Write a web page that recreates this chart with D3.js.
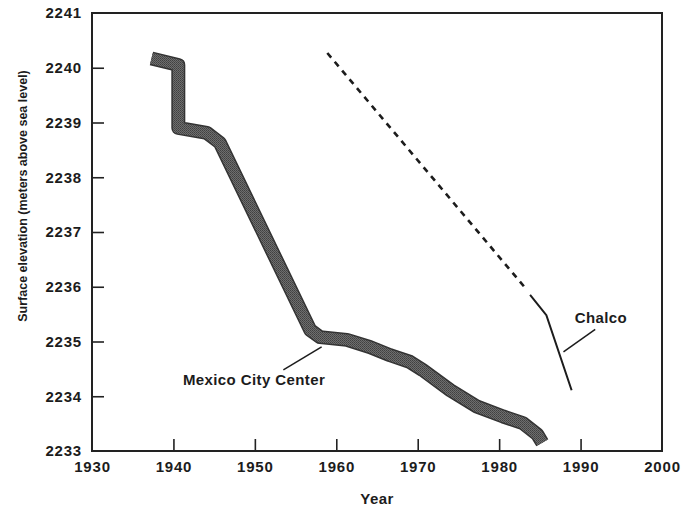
<!DOCTYPE html>
<html>
<head>
<meta charset="utf-8">
<script src="https://cdn.jsdelivr.net/npm/d3@7"></script>
<style>
  body { margin: 0; background: #fff; }
  text { font-family: 'Liberation Sans', Arial, Helvetica, sans-serif; font-weight: bold; fill: #1c1c1c; }
</style>
</head>
<body>
<svg id="chart"></svg>
<script>
// Mexico City Center (thick band)
let cityYears = [1937.3, 1940.6, 1940.6, 1944.1, 1945.7, 1956.8, 1958.0, 1961.3, 1964.1, 1966.6, 1969.0, 1970.6, 1974.0, 1977.3, 1980.5, 1982.9, 1984.7, 1985.3]
let cityElev  = [2240.17, 2240.05, 2238.90, 2238.81, 2238.63, 2235.21, 2235.08, 2235.03, 2234.90, 2234.75, 2234.63, 2234.48, 2234.11, 2233.81, 2233.63, 2233.51, 2233.30, 2233.15]

// Chalco: dashed (projected) and solid (measured)
let chalcoDashYears = [1958.9, 1983.2]
let chalcoDashElev  = [2240.27, 2235.98]
let chalcoYears = [1983.8, 1985.8, 1988.9]
let chalcoElev  = [2235.85, 2235.48, 2234.11]

let xTicks = [1930, 1940, 1950, 1960, 1970, 1980, 1990, 2000]
let yTicks = [2233, 2234, 2235, 2236, 2237, 2238, 2239, 2240, 2241]

let width = 681
let height = 509
let padLeft = 92, padRight = 662, padTop = 13, padBottom = 451

let svg = d3.select('#chart').attr('width', width).attr('height', height)

let xScale = d3.scaleLinear().domain([1930, 2000]).range([padLeft, padRight])
let yScale = d3.scaleLinear().domain([2233, 2241]).range([padBottom, padTop])

// stipple pattern for the band
let defs = svg.append('defs')
let pat = defs.append('pattern')
  .attr('id', 'stipple').attr('patternUnits', 'userSpaceOnUse')
  .attr('width', 2).attr('height', 2)
pat.append('rect').attr('width', 2).attr('height', 2).attr('fill', '#6e6e6e')
pat.append('rect').attr('width', 1).attr('height', 1).attr('fill', '#404040')
pat.append('rect').attr('x', 1).attr('y', 1).attr('width', 1).attr('height', 1).attr('fill', '#4c4c4c')

// axes with inward ticks
let xAxis = d3.axisBottom(xScale).tickValues(xTicks).tickFormat(d3.format('d'))
  .tickSizeInner(-12).tickSizeOuter(0).tickPadding(10)
let yAxis = d3.axisLeft(yScale).tickValues(yTicks).tickFormat(d3.format('d'))
  .tickSizeInner(-12).tickSizeOuter(0).tickPadding(10)

let gx = svg.append('g').attr('transform', 'translate(0,' + padBottom + ')').call(xAxis)
let gy = svg.append('g').attr('transform', 'translate(' + padLeft + ',0)').call(yAxis)

for (let g of [gx, gy]) {
  g.select('.domain').remove()
  g.selectAll('.tick line').attr('stroke', '#222').attr('stroke-width', 1.6)
  g.selectAll('.tick text').attr('font-size', 15).attr('letter-spacing', 0.8).attr('fill', '#1c1c1c')
}
gx.selectAll('.tick').filter(d => d == 1930 || d == 2000).select('line').remove()
gy.selectAll('.tick').filter(d => d == 2233 || d == 2241).select('line').remove()

// frame
svg.append('rect')
  .attr('x', padLeft).attr('y', padTop)
  .attr('width', padRight - padLeft).attr('height', padBottom - padTop)
  .attr('fill', 'none').attr('stroke', '#222').attr('stroke-width', 2)

let line = d3.line().x(d => xScale(d[0])).y(d => yScale(d[1]))

let city = cityYears.map((y, i) => [y, cityElev[i]])
svg.append('path').attr('d', line(city))
  .attr('fill', 'none').attr('stroke', '#333').attr('stroke-width', 14)
  .attr('stroke-linejoin', 'round').attr('stroke-linecap', 'butt')
svg.append('path').attr('d', line(city))
  .attr('fill', 'none').attr('stroke', 'url(#stipple)').attr('stroke-width', 11)
  .attr('stroke-linejoin', 'round').attr('stroke-linecap', 'butt')

let dash = chalcoDashYears.map((y, i) => [y, chalcoDashElev[i]])
svg.append('path').attr('d', line(dash))
  .attr('fill', 'none').attr('stroke', '#1c1c1c').attr('stroke-width', 2.6)
  .attr('stroke-dasharray', '6,5.5')

let chalco = chalcoYears.map((y, i) => [y, chalcoElev[i]])
svg.append('path').attr('d', line(chalco))
  .attr('fill', 'none').attr('stroke', '#1c1c1c').attr('stroke-width', 2)

// annotations
let leaders = [
  [[1953.5, 2234.48], [1958.2, 2234.90]],
  [[1991.8, 2235.22], [1987.9, 2234.81]]
]
leaders.forEach(l => {
  svg.append('path').attr('d', line(l)).attr('fill', 'none')
    .attr('stroke', '#1c1c1c').attr('stroke-width', 1.5)
})

svg.append('text').attr('x', xScale(1949.9)).attr('y', yScale(2234.2))
  .attr('text-anchor', 'middle').attr('font-size', 15).attr('letter-spacing', 0.4)
  .text('Mexico City Center')
svg.append('text').attr('x', xScale(1992.5)).attr('y', yScale(2235.34))
  .attr('text-anchor', 'middle').attr('font-size', 15).attr('letter-spacing', 0.4)
  .text('Chalco')

// axis titles
svg.append('text').attr('x', 377).attr('y', 504)
  .attr('text-anchor', 'middle').attr('font-size', 15).attr('letter-spacing', 0.4)
  .text('Year')
svg.append('text')
  .attr('transform', 'translate(27,196) rotate(-90)')
  .attr('text-anchor', 'middle').attr('font-size', 12.5)
  .text('Surface elevation (meters above sea level)')
</script>
</body>
</html>
